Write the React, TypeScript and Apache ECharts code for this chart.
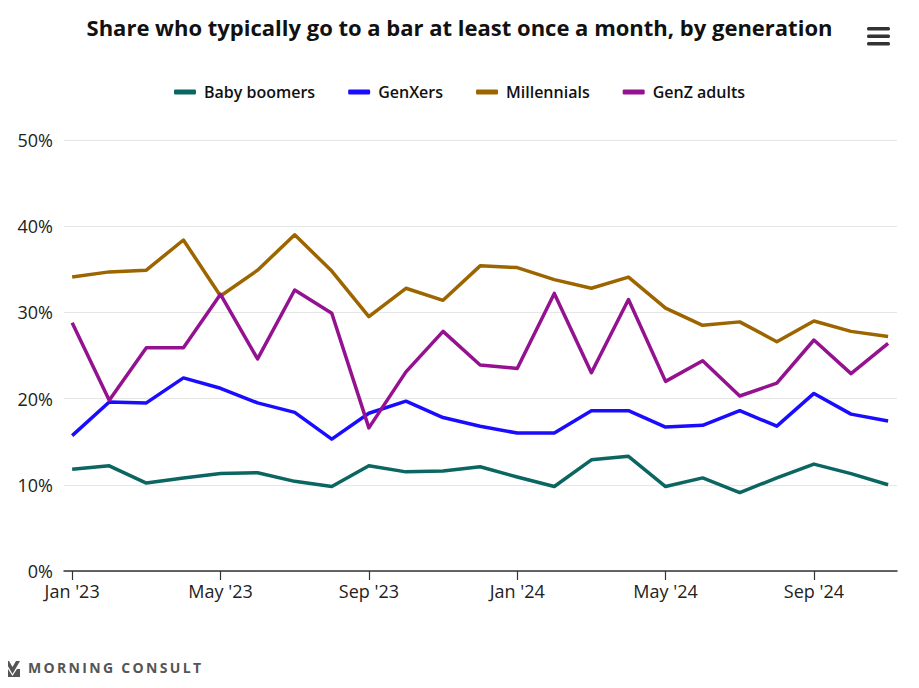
import React, { useEffect, useRef } from "react";
import * as echarts from "echarts";

const months = [
  "Jan '23", "Feb '23", "Mar '23", "Apr '23", "May '23", "Jun '23", "Jul '23", "Aug '23",
  "Sep '23", "Oct '23", "Nov '23", "Dec '23", "Jan '24", "Feb '24", "Mar '24", "Apr '24",
  "May '24", "Jun '24", "Jul '24", "Aug '24", "Sep '24", "Oct '24", "Nov '24",
];
const tickPositions = [0, 4, 8, 12, 16, 20];
const yTicks = [0, 10, 20, 30, 40, 50];

const babyBoomers = [11.8, 12.2, 10.2, 10.8, 11.3, 11.4, 10.4, 9.8, 12.2, 11.5, 11.6, 12.1, 10.9, 9.8, 12.9, 13.3, 9.8, 10.8, 9.1, 10.8, 12.4, 11.3, 10.0];
const genXers = [15.7, 19.6, 19.5, 22.4, 21.2, 19.5, 18.4, 15.3, 18.3, 19.7, 17.8, 16.8, 16.0, 16.0, 18.6, 18.6, 16.7, 16.9, 18.6, 16.8, 20.6, 18.2, 17.4];
const millennials = [34.1, 34.7, 34.9, 38.4, 31.9, 34.9, 39.0, 34.8, 29.5, 32.8, 31.4, 35.4, 35.2, 33.8, 32.8, 34.1, 30.5, 28.5, 28.9, 26.6, 29.0, 27.8, 27.2];
const genZ = [28.8, 19.8, 25.9, 25.9, 32.1, 24.6, 32.6, 29.9, 16.6, 23.1, 27.8, 23.9, 23.5, 32.2, 23.0, 31.5, 22.0, 24.4, 20.3, 21.8, 26.8, 22.9, 26.4];

const seriesNames = ["Baby boomers", "GenXers", "Millennials", "GenZ adults"];
const seriesColors = ["#0b6661", "#1a0dff", "#9c6500", "#941290"];
const seriesValues = [babyBoomers, genXers, millennials, genZ];

const FONT = "'Open Sans', 'Noto Sans', sans-serif";
const LOGO_TEXT = "M\u2009O\u2009R\u2009N\u2009I\u2009N\u2009G\u2009 \u2009C\u2009O\u2009N\u2009S\u2009U\u2009L\u2009T";

export default function App() {
  const ref = useRef<HTMLDivElement>(null);
  useEffect(() => {
    if (!ref.current) return;
    const chart = echarts.init(ref.current, undefined, { renderer: "svg" });
    chart.setOption({
      animation: false,
      backgroundColor: "#ffffff",
      title: {
        text: "Share who typically go to a bar at least once a month, by generation",
        left: "center",
        top: 11,
        textStyle: { fontFamily: FONT, fontSize: 22, fontWeight: "bold", color: "#111" },
      },
      legend: {
        top: 79,
        left: "center",
        icon: "roundRect",
        itemWidth: 22,
        itemHeight: 5,
        itemGap: 33,
        textStyle: { fontFamily: FONT, fontSize: 16, color: "#111", fontWeight: 600, padding: [0, 0, 0, 3] },
        data: seriesNames,
      },
      grid: { left: 64, right: 22, top: 140, bottom: 117, containLabel: false },
      xAxis: {
        type: "value",
        min: -0.22,
        max: 22.24,
        splitLine: { show: false },
        axisLine: { show: true, lineStyle: { color: "#333", width: 1.5 } },
        axisTick: {
          show: true,
          length: 9,
          lineStyle: { color: "#333", width: 1.2 },
          customValues: tickPositions,
        },
        axisLabel: {
          customValues: tickPositions,
          formatter: (v: number) => months[Math.round(v)],
          fontFamily: FONT,
          fontSize: 18,
          color: "#222",
          margin: 11,
        },
      },
      yAxis: {
        type: "value",
        min: 0,
        max: 50,
        interval: 10,
        axisLine: { show: false },
        axisTick: { show: false },
        splitLine: { lineStyle: { color: "#e6e6e6", width: 1 } },
        axisLabel: {
          formatter: (v: number) => (yTicks.includes(v) ? v + "%" : ""),
          fontFamily: FONT,
          fontSize: 18,
          color: "#222",
          margin: 11,
        },
      },
      series: seriesNames.map((name, i) => ({
        name,
        type: "line",
        data: seriesValues[i].map((v, j) => [j, v]),
        showSymbol: false,
        symbol: "none",
        lineStyle: { width: 3.5, color: seriesColors[i], join: "round" },
        itemStyle: { color: seriesColors[i] },
      })),
      graphic: [
        { type: "rect", shape: { x: 867, y: 27, width: 23, height: 3.5, r: 1.5 }, style: { fill: "#333" } },
        { type: "rect", shape: { x: 867, y: 34.5, width: 23, height: 3.5, r: 1.5 }, style: { fill: "#333" } },
        { type: "rect", shape: { x: 867, y: 42, width: 23, height: 3.5, r: 1.5 }, style: { fill: "#333" } },
        {
          type: "polygon",
          shape: { points: [[5, 661], [9, 661], [12.5, 667], [16, 661], [20, 661], [12.5, 674]] },
          style: { fill: "#555" },
        },
        {
          type: "polygon",
          shape: { points: [[5, 669], [8, 669], [12.5, 676], [17, 669], [20, 669], [20, 677], [5, 677]] },
          style: { fill: "#555" },
        },
        {
          type: "text",
          x: 28,
          y: 660,
          style: {
            text: LOGO_TEXT,
            fontFamily: FONT,
            fontSize: 14,
            fontWeight: "bold",
            fill: "#555",
          },
        },
      ],
    });
    return () => chart.dispose();
  }, []);
  return <div ref={ref} style={{ width: 919, height: 688, margin: -8 }} />;
}
